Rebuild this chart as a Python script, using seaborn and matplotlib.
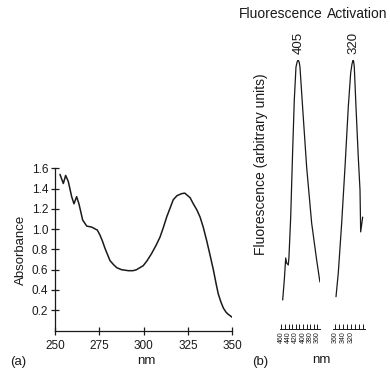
import matplotlib
matplotlib.use("Agg")
import matplotlib.pyplot as plt
import seaborn as sns

# ---- data: (a) absorbance spectrum ----
abs_nm = [252.8, 254.7, 256.0, 257.5, 259.4, 260.7, 262.2, 263.5, 265.6, 267.9,
          270.7, 273.9, 275.4, 276.8, 278.2, 279.6, 281.0, 283.0, 284.8, 287.5,
          291.4, 294.0, 296.0, 299.8, 302.0, 304.5, 307.0, 309.2, 311.0, 313.0,
          316.7, 318.8, 321.4, 323.2, 324.2, 326.2, 328.0, 330.0, 331.8, 333.6,
          335.5, 337.5, 339.3, 341.0, 342.1, 343.6, 345.0, 346.5, 347.7, 350.0]
abs_val = [1.54, 1.45, 1.53, 1.47, 1.32, 1.25, 1.32, 1.25, 1.09, 1.03,
           1.02, 0.99, 0.94, 0.88, 0.81, 0.75, 0.69, 0.65, 0.62, 0.60,
           0.59, 0.59, 0.60, 0.64, 0.69, 0.76, 0.84, 0.92, 1.01, 1.12,
           1.29, 1.33, 1.35, 1.355, 1.34, 1.31, 1.25, 1.19, 1.12, 1.02,
           0.89, 0.74, 0.60, 0.45, 0.36, 0.28, 0.22, 0.18, 0.16, 0.13]

# ---- data: (b) fluorescence emission and activation spectra ----
em_nm = [456.7, 452.2, 448.3, 445.6, 441.1, 439.2, 434.4, 428.9, 424.4, 419.7,
         416.0, 413.3, 410.5, 408.6, 399.4, 390.0, 376.1, 362.2, 353.1]
em_val = [0.108, 0.182, 0.264, 0.245, 0.238, 0.268, 0.416, 0.665, 0.851, 0.974,
          0.995, 1.0, 0.99, 0.974, 0.788, 0.602, 0.394, 0.257, 0.175]
act_nm = [357.5, 351.8, 343.3, 335.0, 326.8, 320.8, 317.5, 315.8, 314.3, 313.0,
          311.8, 307.5, 301.8, 297.5, 295.8, 290.8]
act_val = [0.120, 0.208, 0.394, 0.602, 0.825, 0.952, 0.985, 0.994, 1.0, 0.99,
           0.975, 0.825, 0.639, 0.517, 0.361, 0.416]

abs_xticks = [250, 275, 300, 325, 350]
abs_yticks = [0.2, 0.4, 0.6, 0.8, 1.0, 1.2, 1.4, 1.6]
em_ticks = [460, 450, 440, 430, 420, 410, 400, 390, 380, 370, 360]
em_labeled = [460, 440, 420, 400, 380, 360]
act_ticks = [360, 350, 340, 330, 320, 310, 300, 290]
act_labeled = [360, 340, 320]
em_peak_label = "405"
act_peak_label = "320"

sns.set_style("ticks")
plt.rcParams['font.family'] = ['Liberation Sans', 'DejaVu Sans']

W, H = 390, 369
fig = plt.figure(figsize=(W / 100, H / 100), dpi=100)

def rect(x0, x1, ytop, ybot):
    return [x0 / W, 1 - ybot / H, (x1 - x0) / W, (ybot - ytop) / H]

ink = '#1a1a1a'

# ---- panel (a) ----
axa = fig.add_axes(rect(55, 232.3, 168.3, 330.5))
sns.lineplot(x=abs_nm, y=abs_val, ax=axa, color=ink, lw=1.1, sort=False)
axa.set_xlim(250, 350)
axa.set_ylim(0, 1.6)
axa.set_xticks(abs_xticks)
axa.set_yticks(abs_yticks)
axa.set_yticklabels([f"{v:.1f}" for v in abs_yticks])
axa.tick_params(direction='inout', length=6, width=0.9, labelsize=8.5,
                colors=ink, pad=2)
axa.tick_params(axis='x', pad=4)
for s in ['top', 'right']:
    axa.spines[s].set_visible(False)
for s in ['left', 'bottom']:
    axa.spines[s].set_color(ink)
    axa.spines[s].set_linewidth(0.9)
axa.set_ylabel("Absorbance", fontsize=9.5, color=ink, labelpad=3)
axa.set_xlabel("")
fig.text(146.5 / W, 1 - 361 / H, "nm", ha='center', va='center', fontsize=9.5, color=ink)
fig.text(10 / W, 1 - 362 / H, "(a)", ha='left', va='center', fontsize=9.5, color=ink)

# ---- panel (b) ----
def style_b(ax, ticks, labeled, xlim):
    ax.set_xlim(*xlim)
    ax.set_ylim(0, 1.0)
    ax.set_xticks(ticks)
    ax.set_xticklabels([str(t) if t in labeled else '' for t in ticks],
                       rotation=90, fontsize=5)
    ax.set_yticks([])
    ax.tick_params(axis='x', direction='in', length=3.5, width=0.7,
                   colors=ink, pad=1.5)
    for s in ['top', 'right', 'left']:
        ax.spines[s].set_visible(False)
    ax.spines['bottom'].set_color(ink)
    ax.spines['bottom'].set_linewidth(0.7)
    ax.set_xlabel("")
    ax.set_ylabel("")
    ax.patch.set_alpha(0)

axe = fig.add_axes(rect(279.7, 320.3, 60, 329))
sns.lineplot(x=em_nm, y=em_val, ax=axe, color=ink, lw=0.9, sort=False)
style_b(axe, em_ticks, em_labeled, (465, 352))

axc = fig.add_axes(rect(333, 365, 60, 329))
sns.lineplot(x=act_nm, y=act_val, ax=axc, color=ink, lw=0.9, sort=False)
style_b(axc, act_ticks, act_labeled, (365, 285))

for ax, xs, ys, lab in [(axe, em_nm, em_val, em_peak_label),
                        (axc, act_nm, act_val, act_peak_label)]:
    i = ys.index(max(ys))
    ax.annotate(lab, (xs[i], ys[i]), xytext=(0, 4), textcoords='offset points',
                rotation=90, ha='center', va='bottom', fontsize=9.5, color=ink,
                annotation_clip=False)

fig.text(261 / W, 1 - 164 / H, "Fluorescence (arbitrary units)", rotation=90,
         ha='center', va='center', fontsize=10, color=ink)
fig.text(281 / W, 1 - 14 / H, "Fluorescence", ha='center', va='center',
         fontsize=10, color=ink)
fig.text(327 / W, 1 - 14 / H, "Activation", ha='left', va='center',
         fontsize=10, color=ink)
fig.text(321 / W, 1 - 360 / H, "nm", ha='center', va='center', fontsize=9.5, color=ink)
fig.text(252 / W, 1 - 362 / H, "(b)", ha='left', va='center', fontsize=9.5, color=ink)

fig.savefig("out.png", dpi=100)
